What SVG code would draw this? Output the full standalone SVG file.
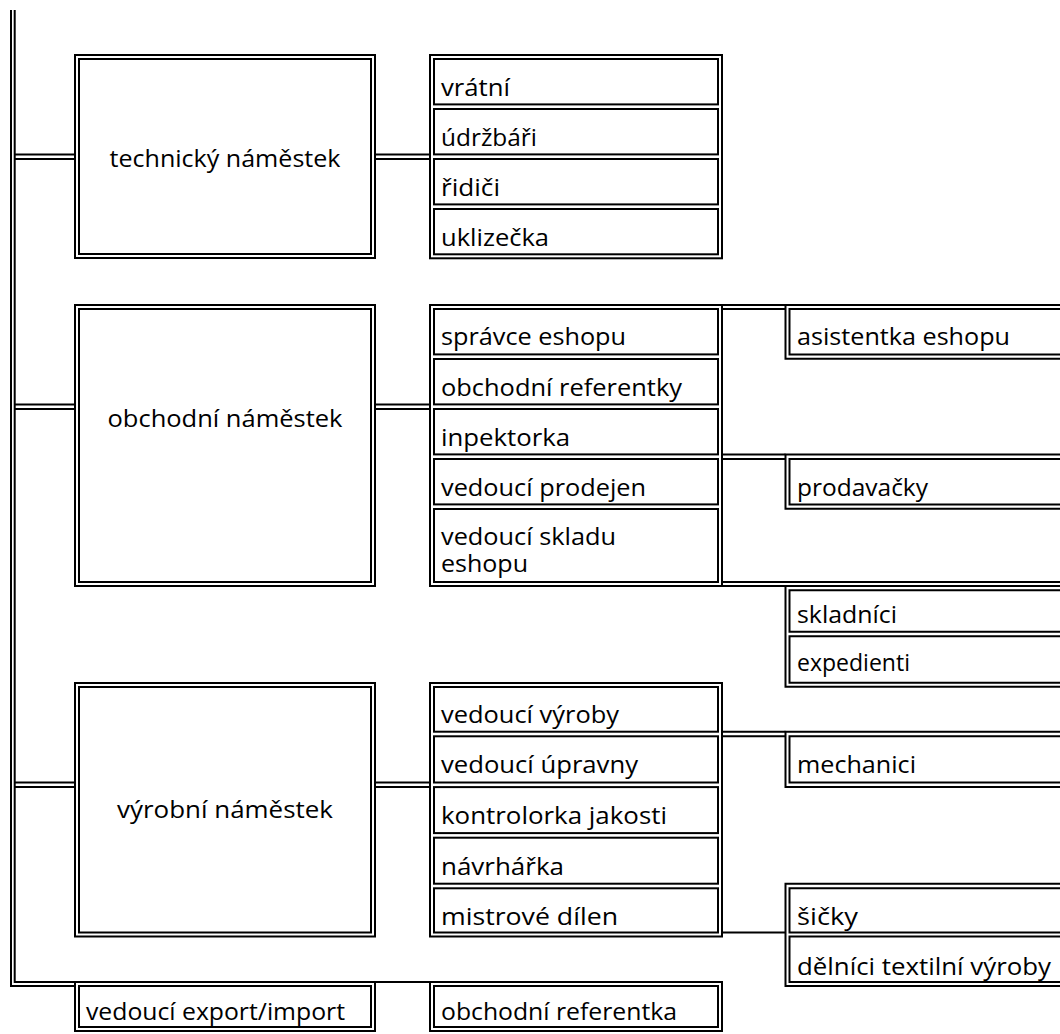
<svg xmlns="http://www.w3.org/2000/svg" width="1060" height="1034" viewBox="0 0 1060 1034">
<style>
.l{fill:none;stroke:#000;stroke-width:2}
.t{font-family:"Open Sans","Liberation Sans",sans-serif;font-size:23px;fill:#000}
.c{text-anchor:middle}
</style>
<rect width="1060" height="1034" fill="#fff"/>
<g id="connectors" class="l">
<path d="M11,10 V986 H75"/>
<path d="M14.7,10 V982 H430"/>
<path d="M14.7,154.4 H75 M14.7,159 H75"/>
<path d="M14.7,404.4 H75 M14.7,409 H75"/>
<path d="M14.7,782.5 H75 M14.7,787.1 H75"/>
<path d="M375,154.4 H430 M375,159 H430"/>
<path d="M375,404.4 H430 M375,409 H430"/>
<path d="M375,782.5 H430 M375,787.1 H430"/>
<path d="M722,305 H785.5 M722,309 H785.5"/>
<path d="M722,454.4 H785.5 M722,459 H785.5"/>
<path d="M722,582 H1060 M722,586 H785.5"/>
<path d="M722,731.7 H785.5 M722,736.3 H785.5"/>
<path d="M722,932.5 H785.5"/>
</g>
<g id="technicky">
<rect class="l" x="75" y="55" width="300" height="203"/>
<rect class="l" x="79" y="59" width="292" height="195"/>
<text class="t c" x="225" y="167" textLength="231" lengthAdjust="spacingAndGlyphs">technický náměstek</text>
</g>
<g id="tech-staff">
<rect class="l" x="430" y="55" width="292" height="203.3"/>
<g id="vratni"><rect class="l" x="434" y="59" width="284" height="45.4"/><text class="t" x="441" y="95.5" textLength="69" lengthAdjust="spacingAndGlyphs">vrátní</text></g>
<g id="udrzbari"><rect class="l" x="434" y="109" width="284" height="45.4"/><text class="t" x="441" y="145.5" textLength="96" lengthAdjust="spacingAndGlyphs">údržbáři</text></g>
<g id="ridici"><rect class="l" x="434" y="159" width="284" height="45.4"/><text class="t" x="441" y="195.5" textLength="59" lengthAdjust="spacingAndGlyphs">řidiči</text></g>
<g id="uklizecka"><rect class="l" x="434" y="209" width="284" height="45.3"/><text class="t" x="441" y="245.5" textLength="108" lengthAdjust="spacingAndGlyphs">uklizečka</text></g>
</g>
<g id="obchodni">
<rect class="l" x="75" y="305" width="300" height="281"/>
<rect class="l" x="79" y="309" width="292" height="273"/>
<text class="t c" x="225" y="427" textLength="235" lengthAdjust="spacingAndGlyphs">obchodní náměstek</text>
</g>
<g id="obch-staff">
<rect class="l" x="430" y="305" width="292" height="281"/>
<g id="spravce"><rect class="l" x="434" y="309" width="284" height="45.4"/><text class="t" x="441" y="345" textLength="185" lengthAdjust="spacingAndGlyphs">správce eshopu</text></g>
<g id="referentky"><rect class="l" x="434" y="359" width="284" height="45.4"/><text class="t" x="441" y="395.5" textLength="241" lengthAdjust="spacingAndGlyphs">obchodní referentky</text></g>
<g id="inpektorka"><rect class="l" x="434" y="409" width="284" height="45.4"/><text class="t" x="441" y="445.5" textLength="129" lengthAdjust="spacingAndGlyphs">inpektorka</text></g>
<g id="prodejen"><rect class="l" x="434" y="459" width="284" height="45.4"/><text class="t" x="441" y="495.5" textLength="205" lengthAdjust="spacingAndGlyphs">vedoucí prodejen</text></g>
<g id="sklad"><rect class="l" x="434" y="509" width="284" height="73"/><text class="t" x="441" y="545" textLength="175" lengthAdjust="spacingAndGlyphs">vedoucí skladu</text><text class="t" x="441" y="572" textLength="87" lengthAdjust="spacingAndGlyphs">eshopu</text></g>
</g>
<g id="asistentka">
<path class="l" d="M1060,305 H785.5 V358.7 H1060 M1060,309 H789.5 V354.4 H1060"/>
<text class="t" x="797" y="345" textLength="213" lengthAdjust="spacingAndGlyphs">asistentka eshopu</text>
</g>
<g id="prodavacky">
<path class="l" d="M1060,454.4 H785.5 V508.7 H1060 M1060,459 H789.5 V504.4 H1060"/>
<text class="t" x="797" y="495.5" textLength="131" lengthAdjust="spacingAndGlyphs">prodavačky</text>
</g>
<g id="sklad-staff">
<path class="l" d="M1060,586 H785.5 V686.7 H1060"/>
<g id="skladnici"><path class="l" d="M1060,590.3 H789.5 V631.7 H1060"/><text class="t" x="797" y="623" textLength="100" lengthAdjust="spacingAndGlyphs">skladníci</text></g>
<g id="expedienti"><path class="l" d="M1060,636.3 H789.5 V682.7 H1060"/><text class="t" x="797" y="671" textLength="113" lengthAdjust="spacingAndGlyphs">expedienti</text></g>
</g>
<g id="vyrobni">
<rect class="l" x="75" y="683" width="300" height="253.5"/>
<rect class="l" x="79" y="687" width="292" height="245.5"/>
<text class="t c" x="225" y="818" textLength="216" lengthAdjust="spacingAndGlyphs">výrobní náměstek</text>
</g>
<g id="vyr-staff">
<rect class="l" x="430" y="683" width="292" height="253.5"/>
<g id="vyroby"><rect class="l" x="434" y="687" width="284" height="44.7"/><text class="t" x="441" y="723" textLength="178" lengthAdjust="spacingAndGlyphs">vedoucí výroby</text></g>
<g id="upravny"><rect class="l" x="434" y="736.3" width="284" height="46.2"/><text class="t" x="441" y="773" textLength="197" lengthAdjust="spacingAndGlyphs">vedoucí úpravny</text></g>
<g id="kontrolorka"><rect class="l" x="434" y="787.1" width="284" height="46"/><text class="t" x="441" y="824" textLength="226" lengthAdjust="spacingAndGlyphs">kontrolorka jakosti</text></g>
<g id="navrharka"><rect class="l" x="434" y="837.7" width="284" height="46"/><text class="t" x="441" y="874.5" textLength="123" lengthAdjust="spacingAndGlyphs">návrhářka</text></g>
<g id="mistrove"><rect class="l" x="434" y="888.3" width="284" height="44.2"/><text class="t" x="441" y="925" textLength="177" lengthAdjust="spacingAndGlyphs">mistrové dílen</text></g>
</g>
<g id="mechanici">
<path class="l" d="M1060,731.7 H785.5 V787.1 H1060 M1060,736.3 H789.5 V782.5 H1060"/>
<text class="t" x="797" y="773" textLength="119" lengthAdjust="spacingAndGlyphs">mechanici</text>
</g>
<g id="dilny-staff">
<path class="l" d="M1060,883.7 H785.5 V986 H1060"/>
<g id="sicky"><path class="l" d="M1060,888.3 H789.5 V932.5 H1060"/><text class="t" x="797" y="925" textLength="61" lengthAdjust="spacingAndGlyphs">šičky</text></g>
<g id="delnici"><path class="l" d="M1060,936.5 H789.5 V982 H1060"/><text class="t" x="797" y="975" textLength="254" lengthAdjust="spacingAndGlyphs">dělníci textilní výroby</text></g>
</g>
<g id="export">
<rect class="l" x="75" y="982" width="300" height="49"/>
<rect class="l" x="79" y="986" width="292" height="41"/>
<text class="t" x="86" y="1020" textLength="259" lengthAdjust="spacingAndGlyphs">vedoucí export/import</text>
</g>
<g id="referentka">
<rect class="l" x="430" y="982" width="292" height="49"/>
<rect class="l" x="434" y="986" width="284" height="41"/>
<text class="t" x="441" y="1020" textLength="236" lengthAdjust="spacingAndGlyphs">obchodní referentka</text>
</g>
</svg>
